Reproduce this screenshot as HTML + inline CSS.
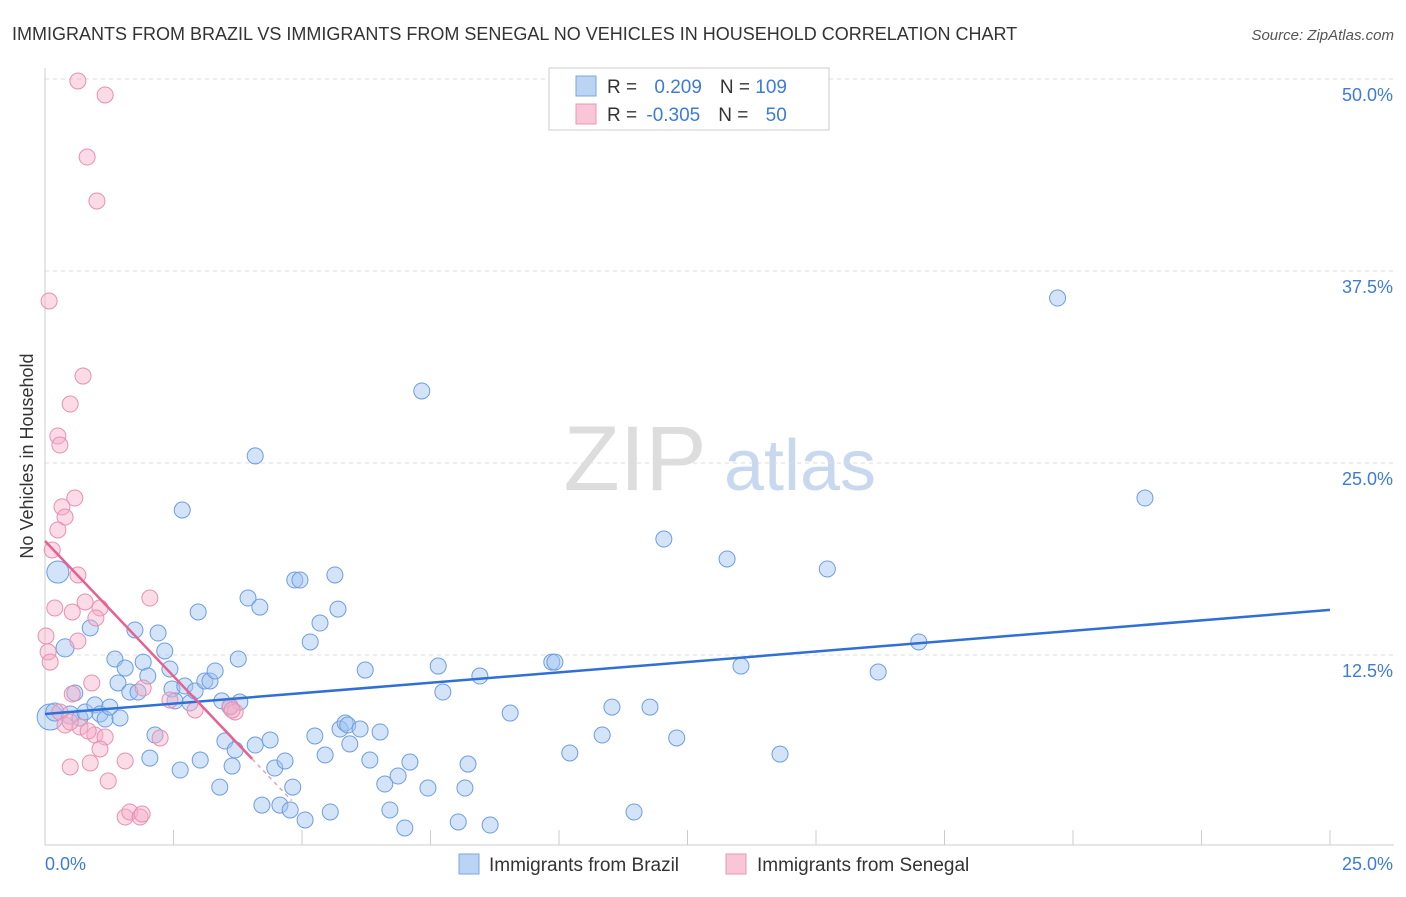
<!DOCTYPE html>
<html><head><meta charset="utf-8"><style>
body{margin:0;background:#fff;font-family:"Liberation Sans",sans-serif}
svg text{font-family:"Liberation Sans",sans-serif}
</style></head><body>
<svg id="chart" width="1406" height="892" xmlns="http://www.w3.org/2000/svg">
<text x="12" y="40" font-size="18" fill="#333">IMMIGRANTS FROM BRAZIL VS IMMIGRANTS FROM SENEGAL NO VEHICLES IN HOUSEHOLD CORRELATION CHART</text>
<text x="1394" y="40" font-size="15" fill="#555" font-style="italic" text-anchor="end">Source: ZipAtlas.com</text>
<text x="33" y="456" font-size="18" fill="#333" text-anchor="middle" transform="rotate(-90 33 456)">No Vehicles in Household</text>
<g><text x="635" y="490" font-size="92" fill="#ddd" font-family="Liberation Serif" text-anchor="middle">ZIP</text><text x="800" y="490" font-size="72" fill="#c8d8ee" text-anchor="middle">atlas</text></g>
<g id="grid"></g><g id="axes"></g><g id="pts"></g><g id="lines"></g>
<g>
<rect x="549" y="68" width="280" height="62" fill="#fff" stroke="#ccc"/>
<rect x="576" y="76" width="20" height="20" fill="#bcd4f4" stroke="#7aa6e2"/>
<rect x="576" y="104" width="20" height="20" fill="#f8c6d6" stroke="#eb97b4"/>
<text x="607" y="93" font-size="19" fill="#333">R = <tspan fill="#3d7bd9" dx="12">0.209</tspan><tspan dx="18" fill="#333">N = </tspan><tspan fill="#3d7bd9">109</tspan></text>
<text x="607" y="121" font-size="19" fill="#333">R = <tspan fill="#3d7bd9" dx="4">-0.305</tspan><tspan dx="18" fill="#333">N = </tspan><tspan fill="#3d7bd9" dx="12">50</tspan></text>
</g>
<g>
<rect x="459" y="854" width="20" height="20" fill="#bcd4f4" stroke="#7aa6e2"/>
<text x="489" y="871" font-size="19" fill="#333">Immigrants from Brazil</text>
<rect x="726" y="854" width="20" height="20" fill="#f8c6d6" stroke="#eb97b4"/>
<text x="757" y="871" font-size="19" fill="#333">Immigrants from Senegal</text>
</g>
</svg>
<script>
const yTicks=[12.5,25,37.5,50];
const yTickLabels=["12.5%","25.0%","37.5%","50.0%"];
const xTickLabels=["0.0%","25.0%"];
const brazilX=[0.1,0.19,0.25,0.39,0.49,0.58,0.68,0.78,0.88,0.97,1.07,1.17,1.26,1.36,1.46,1.42,1.56,1.65,1.75,1.81,1.91,2.0,2.04,2.14,2.2,2.33,2.43,2.47,2.53,2.63,2.67,2.72,2.82,2.92,2.98,3.02,3.11,3.21,3.31,3.4,3.44,3.5,3.6,3.64,3.7,3.76,3.79,3.95,4.09,4.09,4.18,4.22,4.38,4.47,4.57,4.67,4.77,4.82,4.86,4.96,5.06,5.16,5.25,5.35,5.45,5.55,5.64,5.7,5.74,5.84,5.89,5.93,6.13,6.23,6.32,6.52,6.61,6.71,6.87,7.0,7.1,7.33,7.45,7.65,7.74,8.04,8.17,8.23,8.46,8.66,9.05,9.86,9.92,10.21,10.84,11.03,11.46,11.77,12.04,12.29,13.27,13.54,14.3,15.22,16.21,17.0,19.7,21.4];
const brazilY=[8.46,8.79,17.9,12.96,8.59,10.03,8.4,8.79,14.26,9.25,8.66,8.33,9.11,12.24,8.4,10.68,11.65,10.09,14.13,10.09,12.04,11.13,5.79,7.29,13.93,12.76,11.59,10.29,9.51,5.01,21.94,10.48,9.38,10.16,15.3,5.66,10.81,10.81,11.46,3.9,9.51,6.9,9.11,5.27,6.32,12.24,9.44,16.21,6.64,25.46,15.62,2.73,6.97,5.14,2.73,5.6,2.41,3.9,17.38,17.38,1.76,13.35,7.23,14.58,5.99,2.28,17.71,15.49,7.68,8.07,7.94,6.71,7.68,11.52,5.66,7.49,4.1,2.41,4.62,1.24,5.53,29.69,3.84,11.78,10.09,1.63,3.84,5.4,11.13,1.43,8.72,12.04,12.04,6.12,7.29,9.11,2.28,9.11,20.05,7.1,18.75,11.78,6.05,18.1,11.39,13.35,35.74,22.72];
const brazilR=[13,9,11,9,9,8,8,8,8,8,8,8,8,8,8,8,8,8,8,8,8,8,8,8,8,8,8,8,8,8,8,8,8,8,8,8,8,8,8,8,8,8,8,8,8,8,8,8,8,8,8,8,8,8,8,8,8,8,8,8,8,8,8,8,8,8,8,8,8,8,8,8,8,8,8,8,8,8,8,8,8,8,8,8,8,8,8,8,8,8,8,8,8,8,8,8,8,8,8,8,8,8,8,8,8,8,8,8,8,8];
const senegalX=[0.64,1.17,0.82,1.01,0.08,0.74,0.49,0.25,0.29,0.58,0.33,0.39,0.25,0.14,0.64,0.19,0.53,1.07,0.78,0.99,2.04,0.02,0.64,0.06,0.1,0.91,0.53,1.91,2.43,2.92,3.6,3.7,0.29,0.39,0.68,0.97,1.17,2.24,0.49,1.07,0.88,0.49,1.56,1.23,1.56,1.65,1.85,1.89,3.64,0.84];
const senegalY=[49.87,48.96,44.92,42.06,35.55,30.66,28.84,26.76,26.17,22.72,22.14,21.48,20.64,19.34,17.71,15.56,15.3,15.56,15.95,14.91,16.21,13.74,13.41,12.7,12.04,10.68,9.96,10.35,9.57,8.92,9.18,8.79,8.79,7.94,7.81,7.29,7.16,7.1,8.14,6.38,5.47,5.21,5.6,4.3,1.95,2.28,1.95,2.15,8.92,7.55];
const lineSlopeBrazil=[0.271],lineInterceptBrazil=[8.66];
const lineSlopeSenegal=[-3.52],lineInterceptSenegal=[19.92];
const X0=45,X1=1330,XMAX=25,Y0=847,PXY=15.36;
const sx=v=>X0+v*(X1-X0)/XMAX, sy=v=>Y0-v*PXY;
const NS="http://www.w3.org/2000/svg";
function mk(t,a,p){const e=document.createElementNS(NS,t);for(const k in a)e.setAttribute(k,a[k]);p.appendChild(e);return e;}
const grid=document.getElementById('grid'),axes=document.getElementById('axes'),pts=document.getElementById('pts'),lines=document.getElementById('lines');
yTicks.forEach((v,i)=>{
 const l=mk('line',{x1:X0,x2:1394,y1:sy(v),y2:sy(v),stroke:'#ddd','stroke-dasharray':'4,4'},grid);
 
 
 const t=mk('text',{x:1393,y:sy(v)+22,'font-size':18,fill:'#3d7bd9','text-anchor':'end'},axes);
 t.textContent=yTickLabels[i];
 
 
});
const ya=mk('line',{x1:X0,x2:X0,y1:68,y2:845,stroke:'#ccc'},axes);


const xa=mk('line',{x1:X0,x2:1394,y1:845,y2:845,stroke:'#ccc'},axes);


for(let i=1;i<=10;i++){const v=i*2.5;const tk=mk('line',{x1:sx(v),x2:sx(v),y1:830,y2:845,stroke:'#ccc'},axes);
 
 }
[[0,'start',45],[25,'end',1393]].forEach((d,i)=>{const t=mk('text',{x:d[2],y:870,'font-size':18,fill:'#3d7bd9','text-anchor':d[1]},axes);t.textContent=xTickLabels[i];
 
 });
brazilX.forEach((x,i)=>{const c=mk('circle',{cx:sx(x),cy:sy(brazilY[i]),r:brazilR[i]||8,fill:'rgba(160,195,240,0.45)',stroke:'#6d9de0','stroke-width':1},pts);
 
 });
senegalX.forEach((x,i)=>{const c=mk('circle',{cx:sx(x),cy:sy(senegalY[i]),r:8,fill:'rgba(245,175,200,0.45)',stroke:'#e98fb0','stroke-width':1},pts);
 
 });
const bl=mk('line',{x1:sx(0),y1:sy(lineInterceptBrazil[0]),x2:sx(25),y2:sy(lineInterceptBrazil[0]+25*lineSlopeBrazil[0]),stroke:'#2f6fd6','stroke-width':2.5},lines);


const xe=4.03,xd=4.8;
const sl=mk('line',{x1:sx(0),y1:sy(lineInterceptSenegal[0]),x2:sx(xe),y2:sy(lineInterceptSenegal[0]+xe*lineSlopeSenegal[0]),stroke:'#e8608e','stroke-width':2.5},lines);


const sd=mk('line',{x1:sx(xe),y1:sy(lineInterceptSenegal[0]+xe*lineSlopeSenegal[0]),x2:sx(xd),y2:sy(lineInterceptSenegal[0]+xd*lineSlopeSenegal[0]),stroke:'#e8a0b8','stroke-width':1.5,'stroke-dasharray':'4,4'},lines);


</script>
</body></html>
